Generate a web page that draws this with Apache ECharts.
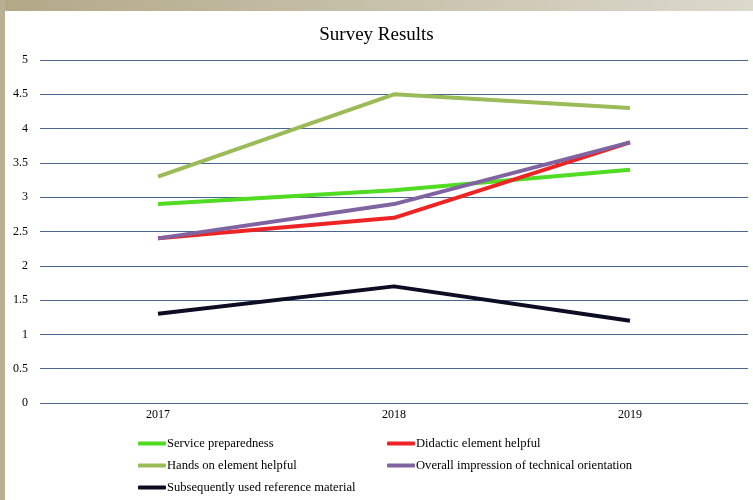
<!DOCTYPE html>
<html>
<head>
<meta charset="utf-8">
<script src="https://cdn.jsdelivr.net/npm/echarts@6/dist/echarts.min.js"></script>
<style>
  html, body { margin: 0; padding: 0; background: #fff; }
  #chart { width: 753px; height: 500px; }
</style>
</head>
<body>
<div id="chart"></div>
<script>
const years = ['2017', '2018', '2019']
const servicePreparedness = [2.9, 3.1, 3.4]
const didacticHelpful = [2.4, 2.7, 3.8]
const handsOnHelpful = [3.3, 4.5, 4.3]
const overallImpression = [2.4, 2.9, 3.8]
const referenceMaterial = [1.3, 1.7, 1.2]

const font = '"Liberation Serif", "DejaVu Serif", serif'

function line(name, data, color) {
    return {
        name: name,
        type: 'line',
        data: data,
        symbol: 'none',
        color: color,
        lineStyle: { width: 4, color: color },
    }
}

const legendBase = {
    orient: 'vertical',
    top: 432,
    itemGap: 9,
    itemWidth: 28,
    itemHeight: 4,
    icon: 'roundRect',
    textStyle: { fontFamily: font, fontSize: 12.6, color: '#000', padding: [0, 0, 0, -4] },
}

const chart = echarts.init(document.getElementById('chart'))
chart.setOption({
    animation: false,
    title: {
        text: 'Survey Results',
        left: 'center',
        top: 21,
        textStyle: { fontFamily: font, fontSize: 19, fontWeight: 'normal', color: '#000' },
    },
    graphic: [
        {
            type: 'rect',
            shape: { x: 0, y: 0, width: 753, height: 11 },
            style: {
                fill: new echarts.graphic.LinearGradient(0, 0, 1, 0, [
                    { offset: 0, color: '#b2a887' },
                    { offset: 1, color: '#dcd9cd' },
                ]),
            },
            z: 10,
        },
        {
            type: 'rect',
            shape: { x: 0, y: 0, width: 5, height: 500 },
            style: { fill: '#b8b093' },
            z: 10,
        },
    ],
    legend: [
        Object.assign({}, legendBase, {
            left: 133,
            data: ['Service preparedness', 'Hands on element helpful', 'Subsequently used reference material'],
        }),
        Object.assign({}, legendBase, {
            left: 382,
            data: ['Didactic element helpful', 'Overall impression of technical orientation'],
        }),
    ],
    grid: { left: 40, right: 5, top: 60, bottom: 97, containLabel: false },
    xAxis: {
        type: 'category',
        data: years,
        boundaryGap: true,
        axisLine: { show: false },
        axisTick: { show: false },
        axisLabel: { fontFamily: font, fontSize: 12, color: '#000', margin: 6 },
    },
    yAxis: {
        type: 'value',
        min: 0,
        max: 5,
        interval: 0.5,
        axisLine: { show: false },
        axisTick: { show: false },
        axisLabel: { fontFamily: font, fontSize: 12, color: '#000', margin: 12 },
        splitLine: { lineStyle: { color: '#4a6690', width: 1 } },
    },
    series: [
        line('Service preparedness', servicePreparedness, '#4fdc22'),
        line('Didactic element helpful', didacticHelpful, '#ee2424'),
        line('Hands on element helpful', handsOnHelpful, '#9bbb59'),
        line('Overall impression of technical orientation', overallImpression, '#8064a2'),
        line('Subsequently used reference material', referenceMaterial, '#0c0c22'),
    ],
})
</script>
</body>
</html>
